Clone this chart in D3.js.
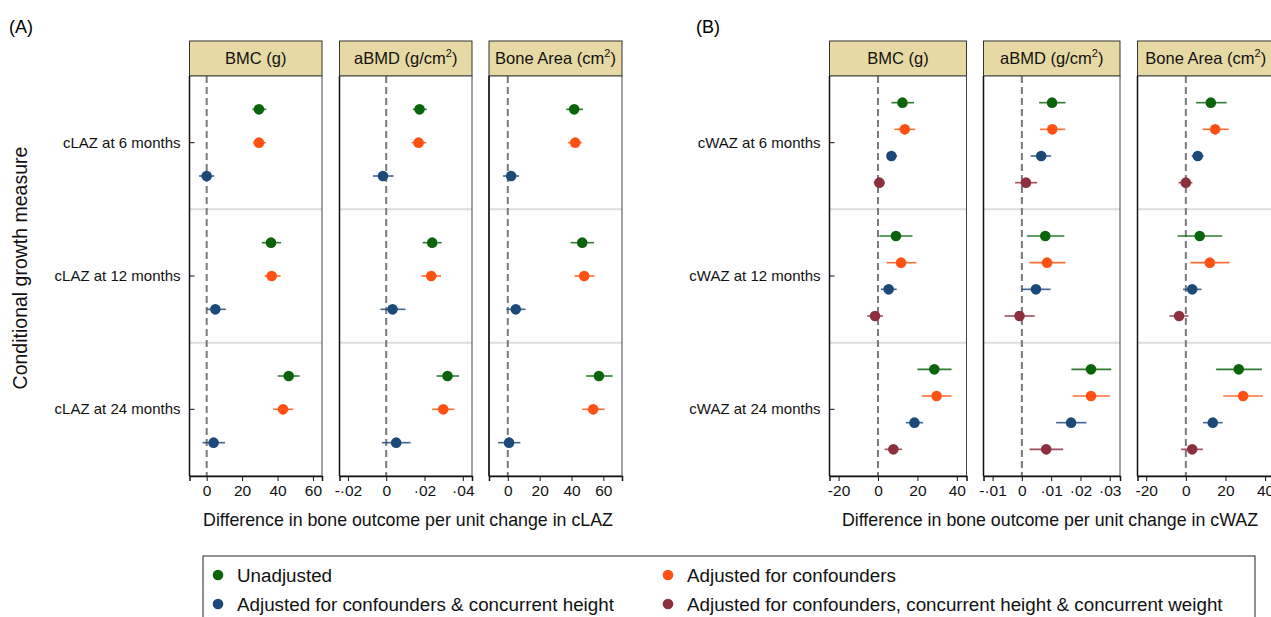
<!DOCTYPE html>
<html>
<head>
<meta charset="utf-8">
<script src="https://cdn.jsdelivr.net/npm/d3@7"></script>
<style>
  body { margin: 0; background: #fff; }
  svg { font-family: "Liberation Sans", Arial, sans-serif; }
</style>
</head>
<body>
<svg id="chart" width="1271" height="617"></svg>
<script>
// righe (misure di crescita condizionale)
var rowsLAZ = ["cLAZ at 6 months", "cLAZ at 12 months", "cLAZ at 24 months"];
var rowsWAZ = ["cWAZ at 6 months", "cWAZ at 12 months", "cWAZ at 24 months"];

// serie (modelli)
var seriesNames = [
  "Unadjusted",
  "Adjusted for confounders",
  "Adjusted for confounders & concurrent height",
  "Adjusted for confounders, concurrent height & concurrent weight"
];
var seriesColors = ["#0a650a", "#ff5212", "#1b4a7a", "#8c3040"];

// stime [riga, serie, stima, ci basso, ci alto]
var lazBMC = [
  [0, 0, 29.5, 25.8, 33.7], [0, 1, 29.5, 26.0, 33.5], [0, 2, 0.0, -4.3, 4.3],
  [1, 0, 36.3, 31.1, 42.0], [1, 1, 36.7, 32.7, 41.7], [1, 2, 4.9, -0.1, 10.8],
  [2, 0, 46.3, 40.1, 52.5], [2, 1, 43.1, 37.5, 48.9], [2, 2, 3.9, -2.3, 10.3]
];
var lazBMD = [
  [0, 0, 0.0174, 0.0139, 0.0212], [0, 1, 0.0169, 0.0132, 0.0209], [0, 2, -0.0017, -0.0069, 0.0038],
  [1, 0, 0.0240, 0.0190, 0.0290], [1, 1, 0.0235, 0.0184, 0.0286], [1, 2, 0.0033, -0.0030, 0.0101],
  [2, 0, 0.0320, 0.0263, 0.0380], [2, 1, 0.0298, 0.0240, 0.0355], [2, 2, 0.0052, -0.0023, 0.0127]
];
var lazArea = [
  [0, 0, 41.7, 36.7, 47.2], [0, 1, 42.3, 37.9, 46.5], [0, 2, 2.1, -3.0, 7.1],
  [1, 0, 46.7, 39.4, 54.1], [1, 1, 48.0, 41.9, 54.3], [1, 2, 5.0, -0.9, 11.1],
  [2, 0, 57.2, 49.2, 65.8], [2, 1, 53.6, 46.7, 60.8], [2, 2, 0.8, -6.1, 7.9]
];
var wazBMC = [
  [0, 0, 12.4, 6.8, 18.3], [0, 1, 13.6, 8.3, 18.8], [0, 2, 6.8, 4.6, 9.7], [0, 3, 0.7, -2.2, 3.5],
  [1, 0, 9.1, 0.7, 17.5], [1, 1, 11.7, 4.4, 19.5], [1, 2, 5.4, 1.5, 9.5], [1, 3, -1.5, -5.4, 2.5],
  [2, 0, 28.6, 20.0, 37.3], [2, 1, 29.7, 22.2, 37.3], [2, 2, 18.5, 14.2, 22.9], [2, 3, 7.8, 3.4, 12.2]
];
var wazBMD = [
  [0, 0, 0.0103, 0.0059, 0.0149], [0, 1, 0.0104, 0.0062, 0.0148], [0, 2, 0.0066, 0.0030, 0.0100], [0, 3, 0.0014, -0.0023, 0.0052],
  [1, 0, 0.0080, 0.0017, 0.0145], [1, 1, 0.0086, 0.0026, 0.0149], [1, 2, 0.0048, -0.0001, 0.0098], [1, 3, -0.0008, -0.0059, 0.0044],
  [2, 0, 0.0236, 0.0169, 0.0305], [2, 1, 0.0236, 0.0173, 0.0301], [2, 2, 0.0168, 0.0117, 0.0220], [2, 3, 0.0083, 0.0026, 0.0141]
];
var wazArea = [
  [0, 0, 12.6, 5.2, 20.6], [0, 1, 14.8, 8.4, 21.7], [0, 2, 6.0, 3.0, 9.0], [0, 3, 0.0, -3.7, 3.3],
  [1, 0, 7.0, -4.2, 18.4], [1, 1, 12.1, 2.3, 22.0], [1, 2, 3.2, -1.4, 7.9], [1, 3, -3.4, -8.3, 1.3],
  [2, 0, 26.7, 15.3, 38.4], [2, 1, 28.9, 18.9, 38.8], [2, 2, 13.6, 8.7, 18.6], [2, 3, 3.2, -2.4, 8.6]
];

// assi x: dominio, tick e etichette
var domLazBMC = [-9.7, 65.1],  ticksLazBMC = [0, 20, 40, 60],          labLazBMC = ["0", "20", "40", "60"];
var domLazBMD = [-0.0244, 0.0448], ticksLazBMD = [-0.02, 0, 0.02, 0.04], labLazBMD = ["-·02", "0", "·02", "·04"];
var domLazArea = [-11.8, 71.7], ticksLazArea = [0, 20, 40, 60],        labLazArea = ["0", "20", "40", "60"];
var domWazBMC = [-24.6, 44.9], ticksWazBMC = [-20, 0, 20, 40],         labWazBMC = ["-20", "0", "20", "40"];
var domWazBMD = [-0.0131, 0.0335], ticksWazBMD = [-0.01, 0, 0.01, 0.02, 0.03], labWazBMD = ["-·01", "0", "·01", "·02", "·03"];
var domWazArea = [-24.4, 44.5], ticksWazArea = [-20, 0, 20, 40],       labWazArea = ["-20", "0", "20", "40"];

var svg = d3.select("#chart");
var plotTop = 76, plotBottom = 476, stripTop = 41;

// disegna un pannello (striscia + area + punti)
function drawPanel(x0, x1, title, sup, data, dom, ticks, labs, rows, nSeries, showRowTicks) {
  var g = svg.append("g");
  var xs = d3.scaleLinear().domain(dom).range([x0, x1]);
  var yRow = d3.scaleBand().domain(d3.range(rows.length)).range([plotTop, plotBottom]);
  var ySer = d3.scalePoint().domain(d3.range(nSeries)).range([0, yRow.bandwidth()]).padding(1);

  // striscia titolo
  g.append("rect")
    .attr("x", x0).attr("y", stripTop)
    .attr("width", x1 - x0).attr("height", plotTop - stripTop)
    .attr("fill", "#e6d9a4").attr("stroke", "#333").attr("stroke-width", 1);
  var t = g.append("text")
    .attr("x", (x0 + x1) / 2).attr("y", 64)
    .attr("text-anchor", "middle")
    .style("font-size", "16.5px").style("fill", "#111")
    .text(title);
  if (sup) {
    t.append("tspan").attr("dy", -7).style("font-size", "11px").text("2");
    t.append("tspan").attr("dy", 7).text(")");
  }

  // sfondo
  g.append("rect")
    .attr("x", x0).attr("y", plotTop)
    .attr("width", x1 - x0).attr("height", plotBottom - plotTop)
    .attr("fill", "#fff");

  // separatori righe
  for (var r = 1; r < rows.length; r++) {
    g.append("line")
      .attr("x1", x0).attr("x2", x1)
      .attr("y1", yRow(r)).attr("y2", yRow(r))
      .attr("stroke", "#dcdcdc").attr("stroke-width", 2);
  }

  // linea di riferimento a zero
  g.append("line")
    .attr("x1", xs(0)).attr("x2", xs(0))
    .attr("y1", plotTop).attr("y2", plotBottom)
    .attr("stroke", "#7a7a7a").attr("stroke-width", 2)
    .attr("stroke-dasharray", "7,4");

  // intervalli di confidenza
  g.selectAll(".ci").data(data).enter().append("line")
    .attr("x1", function(d) { return xs(d[3]); })
    .attr("x2", function(d) { return xs(d[4]); })
    .attr("y1", function(d) { return yRow(d[0]) + ySer(d[1]); })
    .attr("y2", function(d) { return yRow(d[0]) + ySer(d[1]); })
    .attr("stroke", function(d) { return seriesColors[d[1]]; })
    .attr("stroke-width", 1.6)
    .attr("stroke-opacity", 0.85);

  // stime puntuali
  g.selectAll(".pt").data(data).enter().append("circle")
    .attr("cx", function(d) { return xs(d[2]); })
    .attr("cy", function(d) { return yRow(d[0]) + ySer(d[1]); })
    .attr("r", 5.3)
    .attr("fill", function(d) { return seriesColors[d[1]]; });

  // bordo
  g.append("rect")
    .attr("x", x0).attr("y", plotTop)
    .attr("width", x1 - x0).attr("height", plotBottom - plotTop)
    .attr("fill", "none").attr("stroke", "#444").attr("stroke-width", 1);
  g.append("line")
    .attr("x1", x0).attr("x2", x0).attr("y1", plotTop).attr("y2", plotBottom)
    .attr("stroke", "#111").attr("stroke-width", 1.5);

  // asse x
  var ax = g.append("g")
    .attr("transform", "translate(0," + plotBottom + ")")
    .call(d3.axisBottom(xs).tickValues(ticks).tickSize(5).tickPadding(4)
      .tickFormat(function(d, i) { return labs[i]; }));
  ax.select(".domain").attr("stroke", "#111").attr("stroke-width", 1.5);
  ax.selectAll(".tick line").attr("stroke", "#111");
  ax.selectAll("text").style("font-size", "15.5px").style("fill", "#111")
    .style("font-family", "'Liberation Sans', Arial, sans-serif");

  // etichette righe
  if (showRowTicks) {
    rows.forEach(function(lab, i) {
      var yc = yRow(i) + yRow.bandwidth() / 2;
      g.append("line")
        .attr("x1", x0).attr("x2", x0 + 5)
        .attr("y1", yc).attr("y2", yc)
        .attr("stroke", "#111");
      g.append("text")
        .attr("x", x0 - 9).attr("y", yc + 5)
        .attr("text-anchor", "end")
        .style("font-size", "15px").style("fill", "#111")
        .text(lab);
    });
  }
}

// pannello A (cLAZ)
drawPanel(189.5, 322, "BMC (g)", false, lazBMC, domLazBMC, ticksLazBMC, labLazBMC, rowsLAZ, 3, true);
drawPanel(339.5, 472, "aBMD (g/cm", true, lazBMD, domLazBMD, ticksLazBMD, labLazBMD, rowsLAZ, 3, false);
drawPanel(489, 622, "Bone Area (cm", true, lazArea, domLazArea, ticksLazArea, labLazArea, rowsLAZ, 3, false);

// pannello B (cWAZ)
drawPanel(829.5, 966.5, "BMC (g)", false, wazBMC, domWazBMC, ticksWazBMC, labWazBMC, rowsWAZ, 4, true);
drawPanel(983.5, 1120, "aBMD (g/cm", true, wazBMD, domWazBMD, ticksWazBMD, labWazBMD, rowsWAZ, 4, false);
drawPanel(1137.5, 1274, "Bone Area (cm", true, wazArea, domWazArea, ticksWazArea, labWazArea, rowsWAZ, 4, false);

// lettere pannelli
svg.append("text").attr("x", 9).attr("y", 33).style("font-size", "18px").text("(A)");
svg.append("text").attr("x", 696).attr("y", 33).style("font-size", "18px").text("(B)");

// titolo asse y
svg.append("text")
  .attr("transform", "translate(27,268) rotate(-90)")
  .attr("text-anchor", "middle")
  .style("font-size", "19.5px").style("fill", "#111")
  .text("Conditional growth measure");

// titoli assi x
svg.append("text").attr("x", 408).attr("y", 526).attr("text-anchor", "middle")
  .style("font-size", "17.8px").style("fill", "#111")
  .text("Difference in bone outcome per unit change in cLAZ");
svg.append("text").attr("x", 1050).attr("y", 526).attr("text-anchor", "middle")
  .style("font-size", "17.8px").style("fill", "#111")
  .text("Difference in bone outcome per unit change in cWAZ");

// legenda
svg.append("rect")
  .attr("x", 203).attr("y", 556).attr("width", 1052).attr("height", 80)
  .attr("fill", "#fff").attr("stroke", "#222").attr("stroke-width", 1);
var legPos = [[218, 575], [668, 575], [218, 604], [668, 604]];
seriesNames.forEach(function(name, i) {
  svg.append("circle")
    .attr("cx", legPos[i][0]).attr("cy", legPos[i][1]).attr("r", 5.3)
    .attr("fill", seriesColors[i]);
  svg.append("text")
    .attr("x", legPos[i][0] + 19).attr("y", legPos[i][1] + 6.5)
    .style("font-size", "18.8px").style("fill", "#111")
    .text(name);
});
</script>
</body>
</html>
